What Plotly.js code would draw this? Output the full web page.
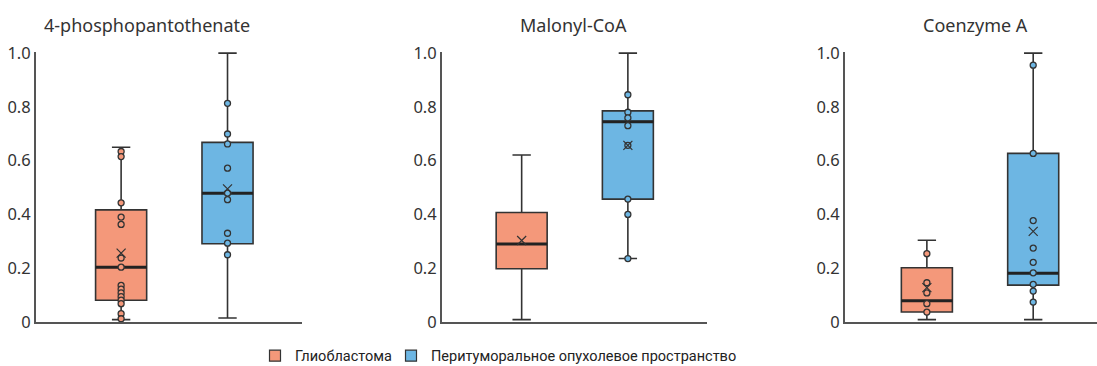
<!DOCTYPE html>
<html>
<head>
<meta charset="utf-8">
<script src="https://cdn.plot.ly/plotly-3.0.1.min.js"></script>
<style>
  html, body { margin: 0; padding: 0; background: #fff; }
  #chart { width: 1097px; height: 366px; }
</style>
</head>
<body>
<div id="chart"></div>
<script>
// ---- data ----
const panelTitles = ['4-phosphopantothenate', 'Malonyl-CoA', 'Coenzyme A'];
const groupNames = ['Глиобластома', 'Перитуморальное опухолевое пространство'];
const yTickVals = [0, 0.2, 0.4, 0.6, 0.8, 1.0];
const yTickText = ['0', '0.2', '0.4', '0.6', '0.8', '1.0'];

// Glioblastoma (orange) box statistics per panel
const gbmLower  = [0.009, 0.009, 0.009];
const gbmQ1     = [0.081, 0.198, 0.037];
const gbmMedian = [0.204, 0.290, 0.079];
const gbmQ3     = [0.417, 0.407, 0.202];
const gbmUpper  = [0.650, 0.621, 0.304];
const gbmMean   = [0.256, 0.303, 0.128];
const gbmPoints = [
  [0.634, 0.615, 0.443, 0.390, 0.363, 0.238, 0.204, 0.136, 0.122, 0.108, 0.094, 0.081, 0.068, 0.031, 0.012],
  [],
  [0.254, 0.146, 0.108, 0.068, 0.037]
];

// Peritumoral space (blue) box statistics per panel
const periLower  = [0.015, 0.236, 0.009];
const periQ1     = [0.291, 0.457, 0.137];
const periMedian = [0.479, 0.745, 0.181];
const periQ3     = [0.668, 0.785, 0.627];
const periUpper  = [1.0, 1.0, 1.0];
const periMean   = [0.495, 0.657, 0.337];
const periPoints = [
  [0.813, 0.699, 0.662, 0.572, 0.479, 0.455, 0.330, 0.293, 0.250],
  [0.845, 0.780, 0.759, 0.730, 0.657, 0.457, 0.400, 0.236],
  [0.955, 0.627, 0.377, 0.275, 0.222, 0.183, 0.140, 0.115, 0.074]
];

// ---- styles ----
const orange = '#F4987A';
const blue = '#6DB6E3';
const outline = '#333333';
const boxWidth = 0.48;
const fontFam = 'Noto Sans, Open Sans, sans-serif';

const groups = [
  {name: groupNames[0], color: orange, pos: 0, legend: 'legend', lower: gbmLower, q1: gbmQ1, med: gbmMedian, q3: gbmQ3, upper: gbmUpper, mean: gbmMean, pts: gbmPoints},
  {name: groupNames[1], color: blue, pos: 1, legend: 'legend2', lower: periLower, q1: periQ1, med: periMedian, q3: periQ3, upper: periUpper, mean: periMean, pts: periPoints}
];

const traces = [];
for (let p = 0; p < 3; p++) {
  const xa = p === 0 ? 'x' : 'x' + (p + 1);
  const ya = p === 0 ? 'y' : 'y' + (p + 1);
  groups.forEach(g => {
    traces.push({
      type: 'box', xaxis: xa, yaxis: ya, showlegend: false,
      x: [g.pos], q1: [g.q1[p]], median: [g.med[p]], q3: [g.q3[p]],
      lowerfence: [g.lower[p]], upperfence: [g.upper[p]],
      width: boxWidth, whiskerwidth: 0.36,
      fillcolor: g.color, line: {color: outline, width: 1.6},
      boxpoints: false, hoverinfo: 'skip'
    });
    // thick median line
    traces.push({
      type: 'scatter', mode: 'lines', xaxis: xa, yaxis: ya, showlegend: false,
      x: [g.pos - boxWidth / 2, g.pos + boxWidth / 2], y: [g.med[p], g.med[p]],
      line: {color: '#222', width: 3}, hoverinfo: 'skip'
    });
    // individual points
    traces.push({
      type: 'scatter', mode: 'markers', xaxis: xa, yaxis: ya, showlegend: false,
      x: g.pts[p].map(() => g.pos), y: g.pts[p],
      marker: {symbol: 'circle', size: 6, color: g.color, line: {color: outline, width: 1.3}},
      hoverinfo: 'y', cliponaxis: false
    });
    // mean marker
    traces.push({
      type: 'scatter', mode: 'markers', xaxis: xa, yaxis: ya, showlegend: false,
      x: [g.pos], y: [g.mean[p]],
      marker: {symbol: 'x-thin-open', size: 9, color: outline, line: {color: outline, width: 1.2}},
      hoverinfo: 'y'
    });
  });
}
// legend entries (one legend per group for exact placement)
groups.forEach(g => {
  traces.push({
    type: 'scatter', mode: 'markers', x: [null], y: [null], name: g.name,
    legend: g.legend,
    marker: {symbol: 'square', size: 11, color: g.color, line: {color: outline, width: 1.2}},
    showlegend: true
  });
});

const W = 1097;
const xDomains = [[36 / W, 302 / W], [442 / W, 707 / W], [845 / W, 1]];
const xRanges = [[-0.80, 1.70], [-0.75, 1.745], [-0.77, 1.60]];

const legendBase = {
  orientation: 'h', xanchor: 'left', y: -0.125, yanchor: 'middle',
  font: {size: 14.5, color: '#222', family: 'Roboto, Noto Sans, sans-serif'},
  itemwidth: 30, bgcolor: 'rgba(0,0,0,0)'
};

const layout = {
  width: 1097, height: 366,
  margin: {l: 0, r: 0, t: 52, b: 44, autoexpand: false},
  paper_bgcolor: '#fff', plot_bgcolor: '#fff',
  font: {family: fontFam, color: '#333', size: 15},
  showlegend: true,
  legend: Object.assign({}, legendBase, {x: 255 / W}),
  legend2: Object.assign({}, legendBase, {x: 391 / W}),
  annotations: [],
  boxmode: 'overlay'
};

for (let p = 0; p < 3; p++) {
  const sfx = p === 0 ? '' : String(p + 1);
  layout['xaxis' + sfx] = {
    domain: xDomains[p], range: xRanges[p], anchor: 'y' + sfx,
    showgrid: false, zeroline: false, showticklabels: false, ticks: '',
    showline: true, linecolor: '#555', linewidth: 2, fixedrange: true
  };
  layout['yaxis' + sfx] = {
    domain: [0, 1], range: [0, 1.004], anchor: 'x' + sfx,
    showgrid: false, zeroline: false, ticks: '',
    tickvals: yTickVals, ticktext: yTickText,
    tickfont: {size: 16.5, color: '#333'},
    showline: true, linecolor: '#555', linewidth: 2, fixedrange: true
  };
}

// panel titles
const titleX = [42 / W, 573 / W, 975 / W];
const titleAnchor = ['left', 'center', 'center'];
panelTitles.forEach((t, i) => {
  layout.annotations.push({
    xref: 'paper', yref: 'paper', x: titleX[i], xanchor: titleAnchor[i],
    y: 1 + 27 / 270, yanchor: 'middle', showarrow: false,
    text: t, font: {size: 18, color: '#333'}
  });
});

Plotly.newPlot('chart', traces, layout, {displayModeBar: false, staticPlot: true});
</script>
</body>
</html>
